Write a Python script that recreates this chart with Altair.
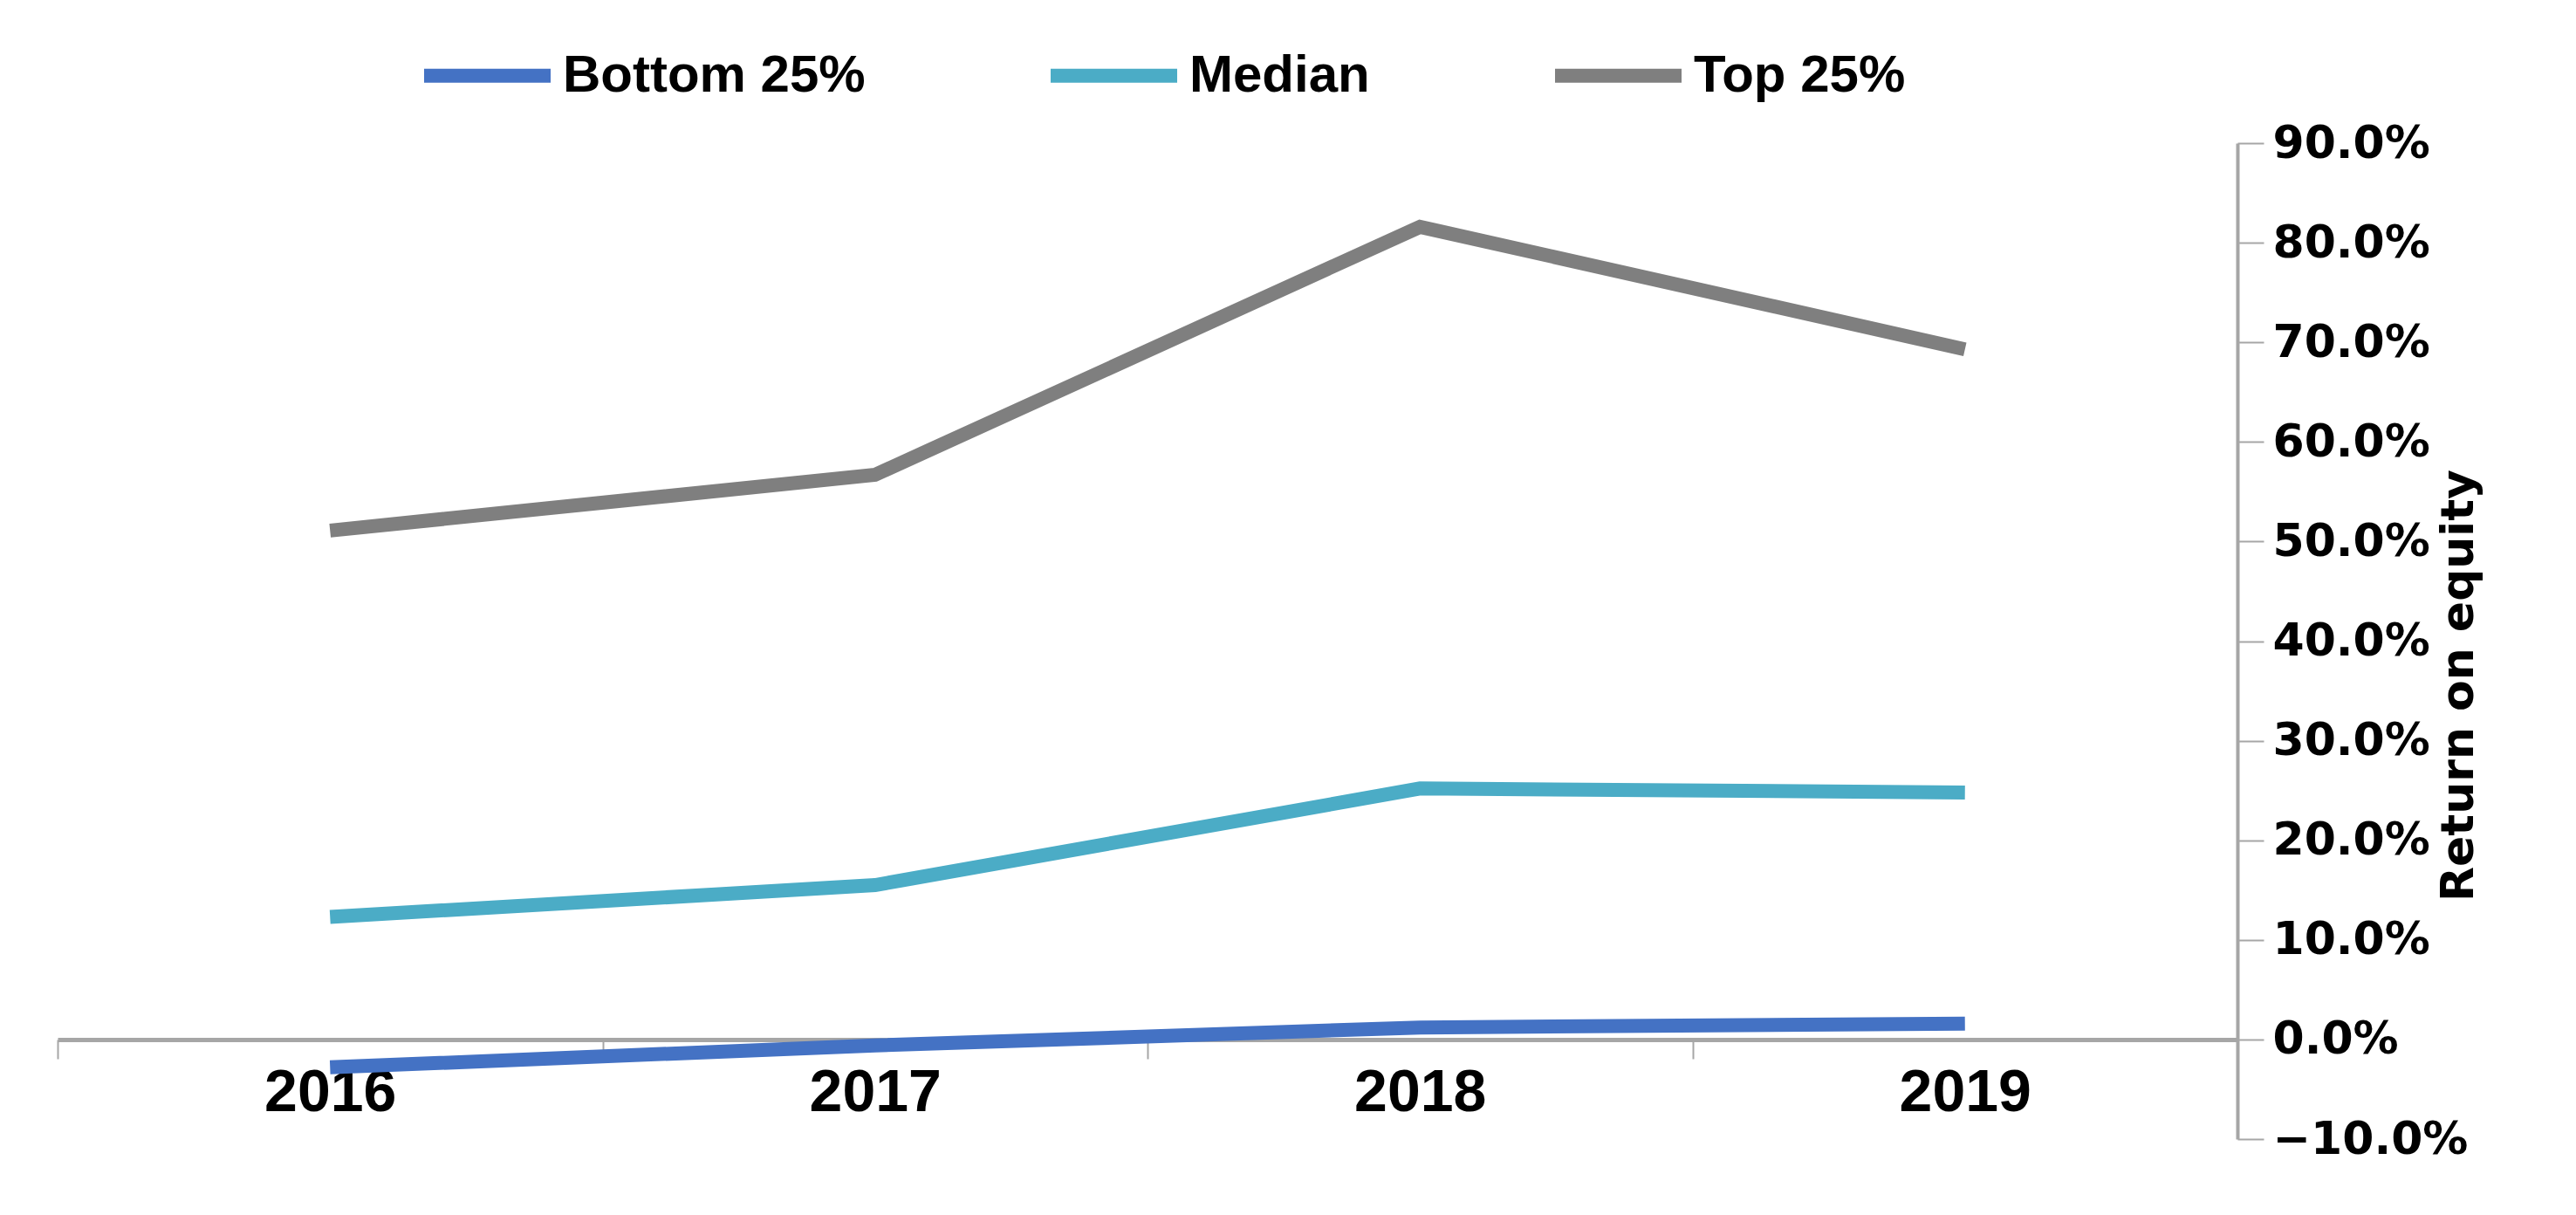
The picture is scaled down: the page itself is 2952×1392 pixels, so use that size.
import altair as alt
import pandas as pd

years = ["2016", "2017", "2018", "2019"]
series_names = ["Bottom 25%", "Median", "Top 25%"]
bottom_25 = [-2.8, -0.6, 1.2, 1.6]
median = [12.3, 15.5, 25.2, 24.8]
top_25 = [51.1, 56.7, 81.6, 69.3]
series_colors = ["#4472C4", "#4BACC6", "#7F7F7F"]
y_ticks = [-10, 0, 10, 20, 30, 40, 50, 60, 70, 80, 90]

rows = []
for name, vals in zip(series_names, [bottom_25, median, top_25]):
    for yr, v in zip(years, vals):
        rows.append({"year": yr, "series": name, "roe": v / 100.0})
df = pd.DataFrame(rows)

W, H = 2498, 1141

chart = alt.Chart(df).mark_line(strokeWidth=16, strokeCap="butt").encode(
    x=alt.X(
        "year:O",
        bandPosition=0.5,
        scale=alt.Scale(type="band", paddingInner=0, paddingOuter=0),
        axis=alt.Axis(
            orient="bottom", title=None, labelAngle=0, grid=False,
            offset=-round(H * 0.1),
            domainColor="#A6A6A6", domainWidth=5,
            tickColor="#A6A6A6", tickWidth=2, tickSize=22, tickBand="extent",
            labelFont="Liberation Sans", labelFontWeight="bold", labelFontSize=68,
            labelColor="#000000", labelPadding=5, labelLimit=0,
        ),
    ),
    y=alt.Y(
        "roe:Q",
        scale=alt.Scale(domain=[-0.1, 0.9], nice=False, zero=False),
        axis=alt.Axis(
            orient="right", values=[t / 100.0 for t in y_ticks], format=".1%",
            grid=False, domainColor="#A6A6A6", domainWidth=4,
            tickColor="#A6A6A6", tickWidth=2, tickSize=30,
            labelFont="DejaVu Sans", labelFontWeight="bold", labelFontSize=52,
            labelColor="#000000", labelPadding=10, labelLimit=0,
            title="Return on equity", titleFont="DejaVu Sans", titleFontWeight="bold",
            titleFontSize=52, titleColor="#000000", titleAngle=270,
            titleX=253, titleY=621, titleAlign="center", titleBaseline="middle",
        ),
    ),
    color=alt.Color(
        "series:N",
        scale=alt.Scale(domain=series_names, range=series_colors),
        sort=series_names,
        legend=alt.Legend(
            orient="none", direction="horizontal", title=None,
            legendX=412, legendY=-158,
            symbolType="stroke", symbolStrokeWidth=16, symbolSize=21025,
            labelFont="Liberation Sans", labelFontWeight="bold", labelFontSize=60,
            labelColor="#000000", labelOffset=6, labelLimit=0,
            columnPadding=180, padding=0,
        ),
    ),
).properties(
    width=W, height=H,
    autosize=alt.AutoSizeParams(type="none"),
    padding={"left": 58, "top": 156, "right": 380, "bottom": 60},
).configure_view(stroke=None)

chart.save("out.html", embed_options={"renderer": "svg", "actions": False})
